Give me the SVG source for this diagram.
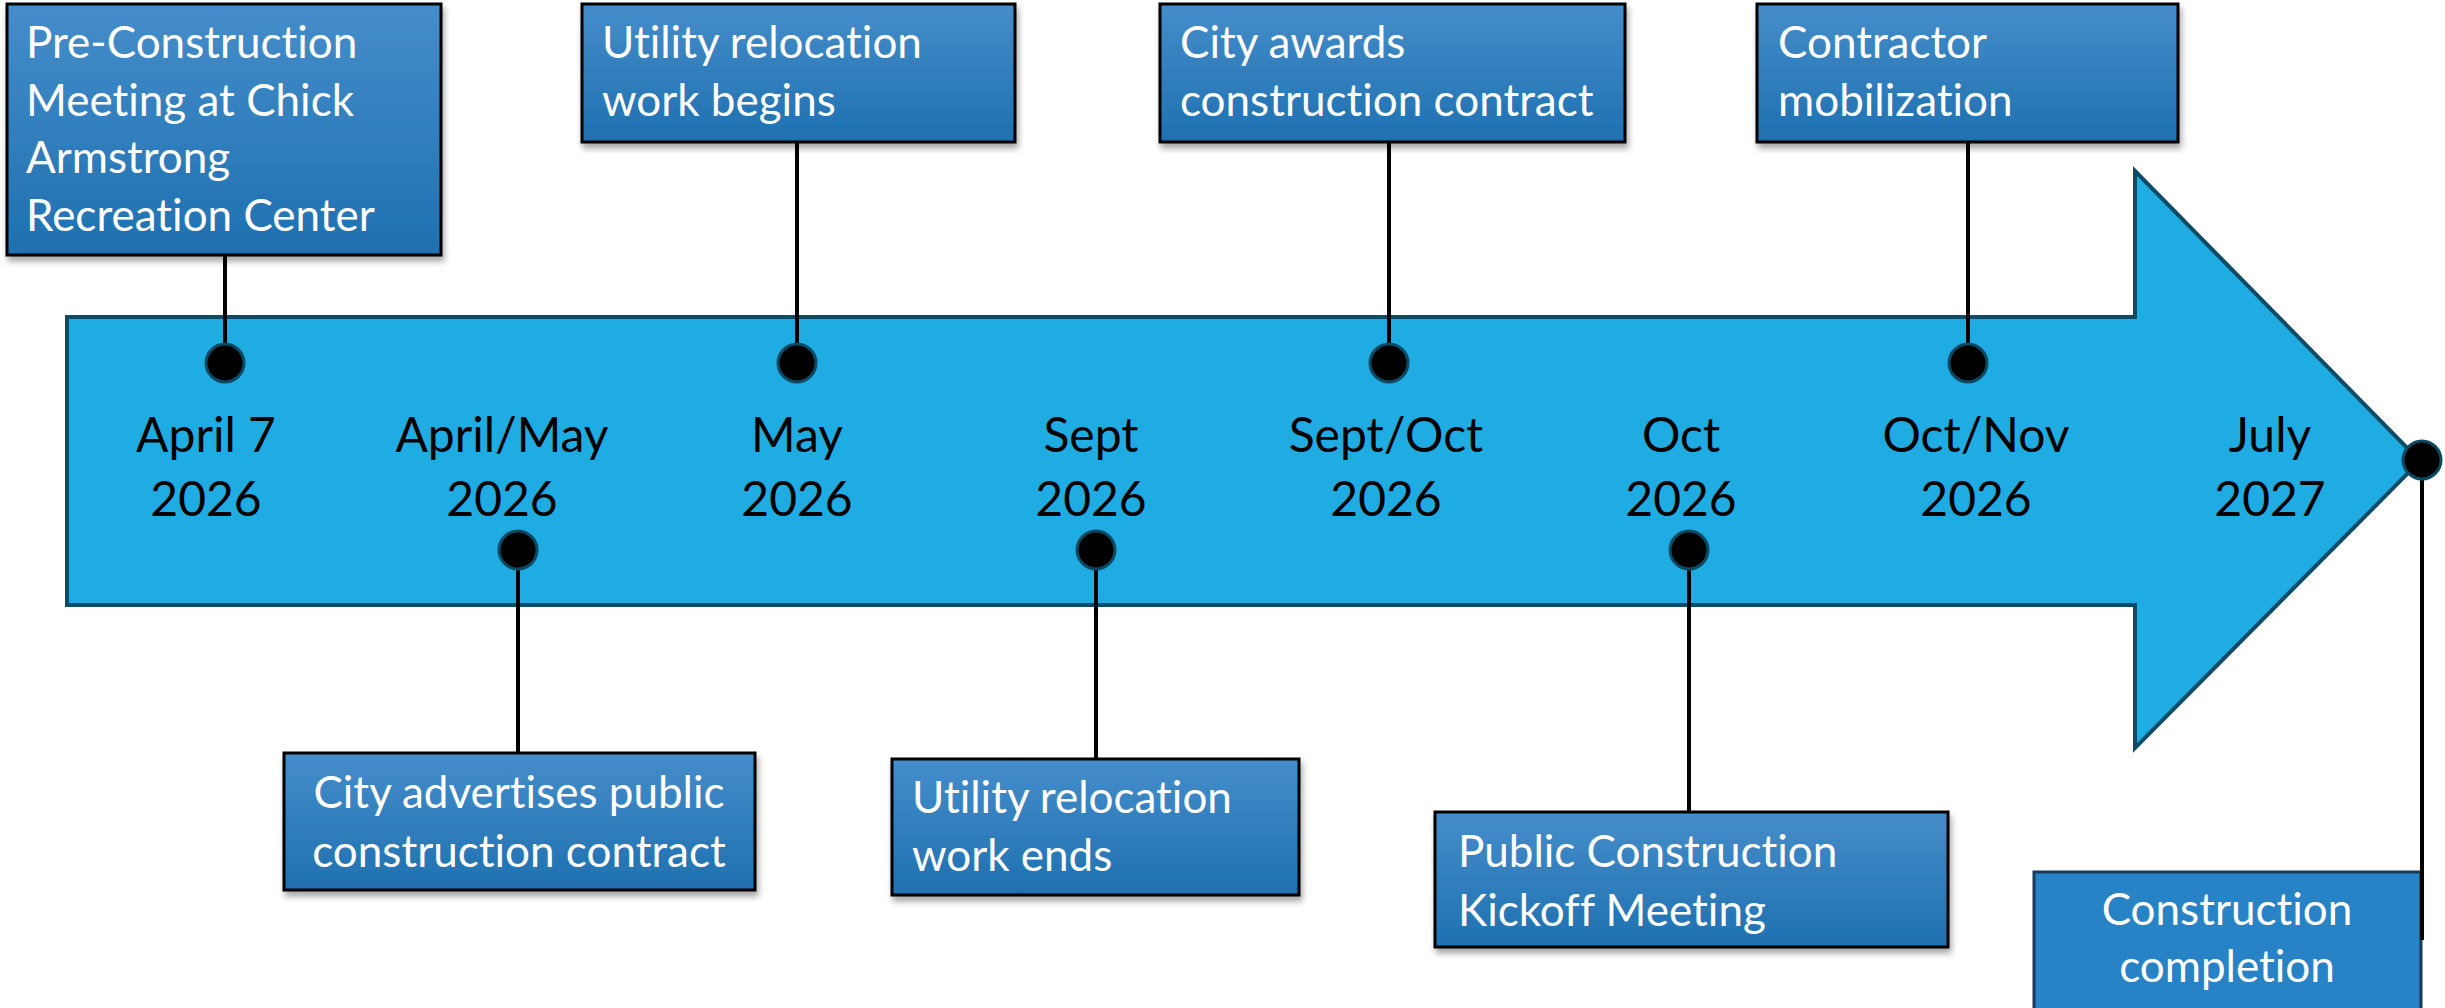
<svg xmlns="http://www.w3.org/2000/svg" width="2445" height="1008" viewBox="0 0 2445 1008">
<defs>
<linearGradient id="boxGrad" x1="0" y1="0" x2="0" y2="1">
<stop offset="0" stop-color="#458dca"/>
<stop offset="1" stop-color="#1f70b0"/>
</linearGradient>
<filter id="shadow" x="-10%" y="-10%" width="120%" height="130%">
<feDropShadow dx="2" dy="5" stdDeviation="3" flood-color="#000" flood-opacity="0.35"/>
</filter>
<style>
text{font-variant-ligatures:none;font-feature-settings:"liga" 0,"clig" 0;}
.box{fill:url(#boxGrad);stroke:#000;stroke-width:3;filter:url(#shadow);}
.box2{fill:#2782c6;stroke:#17395a;stroke-width:3;}
.lbl{font-family:Lato,"Liberation Sans",sans-serif;font-size:44px;fill:#fff;}
.date{font-family:Lato,"Liberation Sans",sans-serif;font-size:48px;fill:#000;text-anchor:middle;}
.ln{stroke:#000;stroke-width:4;fill:none;}
.dot{fill:#000;stroke:#0b4a63;stroke-width:3;}
</style>
</defs>
<rect width="2445" height="1008" fill="#fff"/>
<g id="timeline">
<path d="M67,317 H2135 V171 L2420,461 L2135,748 V605 H67 Z" fill="#1eace3" stroke="#0d4c66" stroke-width="4" stroke-linejoin="miter"/>
<text class="date" x="206" y="452">April 7</text><text class="date" x="206" y="516">2026</text>
<text class="date" x="502" y="452">April/May</text><text class="date" x="502" y="516">2026</text>
<text class="date" x="797" y="452">May</text><text class="date" x="797" y="516">2026</text>
<text class="date" x="1091" y="452">Sept</text><text class="date" x="1091" y="516">2026</text>
<text class="date" x="1386" y="452">Sept/Oct</text><text class="date" x="1386" y="516">2026</text>
<text class="date" x="1681" y="452">Oct</text><text class="date" x="1681" y="516">2026</text>
<text class="date" x="1976" y="452">Oct/Nov</text><text class="date" x="1976" y="516">2026</text>
<text class="date" x="2270" y="452">July</text><text class="date" x="2270" y="516">2027</text>
</g>
<g id="n1"><rect class="box" x="7" y="4" width="434" height="251"/>
<text class="lbl" x="26" y="58">Pre-Construction</text><text class="lbl" x="26" y="116">Meeting at Chick</text><text class="lbl" x="26" y="173">Armstrong</text><text class="lbl" x="26" y="231">Recreation Center</text></g>
<g id="n2"><rect class="box" x="284" y="753" width="471" height="137"/>
<text class="lbl" x="519" y="808" text-anchor="middle">City advertises public</text><text class="lbl" x="519" y="867" text-anchor="middle">construction contract</text></g>
<g id="n3"><rect class="box" x="582" y="4" width="433" height="138"/>
<text class="lbl" x="602" y="58">Utility relocation</text><text class="lbl" x="602" y="116">work begins</text></g>
<g id="n4"><rect class="box" x="892" y="759" width="407" height="136"/>
<text class="lbl" x="912" y="813">Utility relocation</text><text class="lbl" x="912" y="871">work ends</text></g>
<g id="n5"><rect class="box" x="1160" y="4" width="465" height="138"/>
<text class="lbl" x="1180" y="58">City awards</text><text class="lbl" x="1180" y="116">construction contract</text></g>
<g id="n6"><rect class="box" x="1435" y="812" width="513" height="135"/>
<text class="lbl" x="1458" y="867">Public Construction</text><text class="lbl" x="1458" y="926">Kickoff Meeting</text></g>
<g id="n7"><rect class="box" x="1757" y="4" width="421" height="138"/>
<text class="lbl" x="1778" y="58">Contractor</text><text class="lbl" x="1778" y="116">mobilization</text></g>
<g id="n8"><rect class="box2" x="2034" y="872" width="387" height="150"/>
<text class="lbl" x="2227" y="925" text-anchor="middle">Construction</text><text class="lbl" x="2227" y="982" text-anchor="middle">completion</text></g>
<g id="connectors">
<line class="ln" x1="225" y1="255" x2="225" y2="363"/>
<line class="ln" x1="518" y1="550" x2="518" y2="753"/>
<line class="ln" x1="797" y1="142" x2="797" y2="363"/>
<line class="ln" x1="1096" y1="550" x2="1096" y2="759"/>
<line class="ln" x1="1389" y1="142" x2="1389" y2="363"/>
<line class="ln" x1="1689" y1="550" x2="1689" y2="812"/>
<line class="ln" x1="1968" y1="142" x2="1968" y2="363"/>
<line class="ln" x1="2422" y1="460" x2="2422" y2="940"/>
<circle class="dot" cx="225" cy="363" r="19"/>
<circle class="dot" cx="518" cy="550" r="19"/>
<circle class="dot" cx="797" cy="363" r="19"/>
<circle class="dot" cx="1096" cy="550" r="19"/>
<circle class="dot" cx="1389" cy="363" r="19"/>
<circle class="dot" cx="1689" cy="550" r="19"/>
<circle class="dot" cx="1968" cy="363" r="19"/>
<circle class="dot" cx="2422" cy="460" r="19"/>
</g>
</svg>
